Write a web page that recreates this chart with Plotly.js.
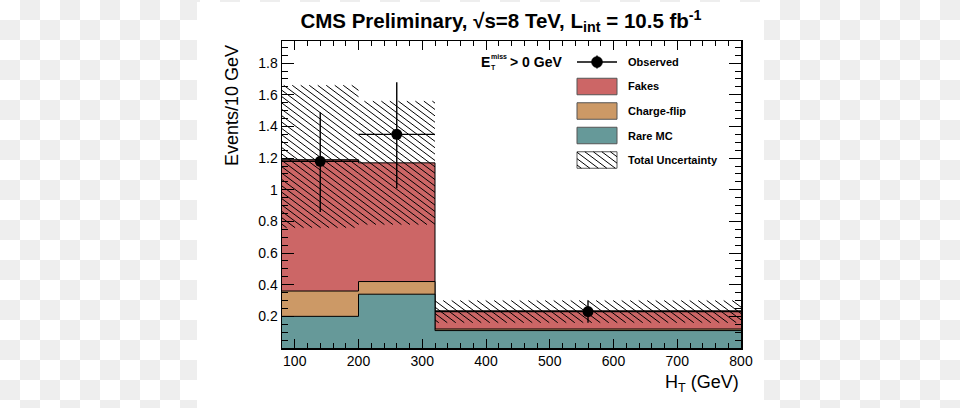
<!DOCTYPE html>
<html>
<head>
<meta charset="utf-8">
<script src="https://cdn.plot.ly/plotly-3.0.1.min.js"></script>
<style>
  html, body { margin: 0; padding: 0; }
  #bg { position: absolute; left: 0; top: 0; width: 960px; height: 408px;
        background: repeating-conic-gradient(#eeeeee 0% 25%, #ffffff 0% 50%) 0 0 / 40px 40px; }
  #sheet { position: absolute; left: 197px; top: 2px; width: 567px; height: 406px; background: #ffffff; }
  #chart { position: absolute; left: 0; top: 0; width: 960px; height: 408px; }
</style>
</head>
<body>
<div id="bg"></div>
<div id="sheet"></div>
<div id="chart"></div>
<script>
// ---- data ----
const binEdges   = [80, 200, 320, 800];
const rareMC     = [0.20, 0.34, 0.11];
const chargeFlip = [0.16, 0.08, 0.01];
const fakes      = [0.83, 0.75, 0.115];
const uncLow     = [0.76, 0.78, 0.16];
const uncHigh    = [1.66, 1.56, 0.30];
const obsX       = [140, 260, 560];
const obsY       = [1.18, 1.35, 0.23];
const obsHigh    = [1.49, 1.68, 0.30];
const obsLow     = [0.86, 1.01, 0.16];
const yTickVals  = [0.2, 0.4, 0.6, 0.8, 1, 1.2, 1.4, 1.6, 1.8];
const legendLabels = ['Observed', 'Fakes', 'Charge-flip', 'Rare MC', 'Total Uncertainty'];

// ---- geometry / styles ----
const FONT = 'Liberation Sans, Arial, Helvetica, sans-serif';
const cFakes = 'rgb(204,102,102)';
const cFlip  = 'rgb(204,153,102)';
const cRare  = 'rgb(102,153,153)';
const X_RANGE = [80, 800];
const Y_RANGE = [0, 1.94];
const PL = 282, PR = 741, PT = 41, PB = 348;   // plot area in page pixels

const px2x = px => X_RANGE[0] + (px - PL) * (X_RANGE[1] - X_RANGE[0]) / (PR - PL);
const py2y = py => Y_RANGE[0] + (PB - py) * (Y_RANGE[1] - Y_RANGE[0]) / (PB - PT);
const x2px = x => PL + (x - X_RANGE[0]) * (PR - PL) / (X_RANGE[1] - X_RANGE[0]);
const y2py = y => PB - (y - Y_RANGE[0]) * (PB - PT) / (Y_RANGE[1] - Y_RANGE[0]);
const pxPaper = px => (px - PL) / (PR - PL);
const pyPaper = py => (PB - py) / (PB - PT);

const cumulative = (...arrs) => arrs[0].map((_, i) => arrs.reduce((s, a) => s + a[i], 0));
const stepY = v => v.concat([v[v.length - 1]]);
const stackTrace = (vals, color) => ({
  type: 'scatter', mode: 'lines', x: binEdges, y: stepY(vals),
  line: {shape: 'hv', color: '#000000', width: 1}, fill: 'tozeroy', fillcolor: color, hoverinfo: 'skip'
});

// hatch lines ("\\") clipped to a pixel rectangle, aligned on a global grid
const HATCH_DX = 8.5, HATCH_SLOPE = 0.75;
function hatchSegments(X0, X1, Y0, Y1) {
  const segs = [];
  const step = HATCH_DX * HATCH_SLOPE;
  const cMin = Y0 - HATCH_SLOPE * X1, cMax = Y1 - HATCH_SLOPE * X0;
  for (let c = Math.ceil(cMin / step) * step; c <= cMax; c += step) {
    const a = Math.max(X0, (Y0 - c) / HATCH_SLOPE);
    const b = Math.min(X1, (Y1 - c) / HATCH_SLOPE);
    if (b - a > 0.3) segs.push([a, HATCH_SLOPE * a + c, b, HATCH_SLOPE * b + c]);
  }
  return segs;
}

const traces = [
  stackTrace(cumulative(rareMC, chargeFlip, fakes), cFakes),
  stackTrace(cumulative(rareMC, chargeFlip), cFlip),
  stackTrace(rareMC, cRare)
];
// uncertainty hatching: one small line trace per hatch stroke (no gaps in any trace)
for (let i = 0; i < uncLow.length; i++) {
  hatchSegments(x2px(binEdges[i]), x2px(binEdges[i + 1]), y2py(uncHigh[i]), y2py(uncLow[i])).forEach(s => {
    traces.push({type: 'scatter', mode: 'lines', x: [px2x(s[0]), px2x(s[2])], y: [py2y(s[1]), py2y(s[3])],
      line: {color: '#000000', width: 1}, hoverinfo: 'skip'});
  });
}
traces.push({type: 'scatter', mode: 'markers', x: obsX, y: obsY, marker: {color: '#000000', size: 11},
  error_y: {type: 'data', symmetric: false, array: obsHigh.map((h, i) => h - obsY[i]),
    arrayminus: obsY.map((v, i) => v - obsLow[i]), width: 0, thickness: 1.4, color: '#000000'},
  error_x: {type: 'data', array: obsX.map((x, i) => (binEdges[i + 1] - binEdges[i]) / 2),
    width: 0, thickness: 1.4, color: '#000000'}});

// ---- legend as layout shapes (page pixels -> paper) ----
const shapes = [];
const legX0 = 577, legX1 = 617, rowY = [62, 86.5, 111, 135.5, 160], boxH = 16.5;
const P = (x0, y0, x1, y1) => ({xref: 'paper', yref: 'paper', x0: pxPaper(x0), y0: pyPaper(y0), x1: pxPaper(x1), y1: pyPaper(y1), layer: 'above'});
shapes.push(Object.assign(P(legX0, rowY[0], legX1, rowY[0]), {type: 'line', line: {color: '#000000', width: 1.4}}));
shapes.push(Object.assign(P((legX0 + legX1) / 2, rowY[0] - 6.5, (legX0 + legX1) / 2, rowY[0] + 6.5), {type: 'line', line: {color: '#000000', width: 1.4}}));
shapes.push(Object.assign(P(591.5, rowY[0] - 5.5, 602.5, rowY[0] + 5.5), {type: 'circle', fillcolor: '#000000', line: {color: '#000000', width: 0.5}}));
[cFakes, cFlip, cRare, 'rgba(0,0,0,0)'].forEach((col, k) => {
  const r = k + 1;
  shapes.push(Object.assign(P(legX0, rowY[r] - boxH / 2, legX1, rowY[r] + boxH / 2),
    {type: 'rect', fillcolor: col, line: {color: '#555555', width: 1}}));
});
hatchSegments(legX0, legX1, rowY[4] - boxH / 2, rowY[4] + boxH / 2).forEach(s => {
  shapes.push(Object.assign(P(s[0], s[1], s[2], s[3]), {type: 'line', line: {color: '#000000', width: 1}}));
});

function ann(px, py, text, size, opts) {
  return Object.assign({
    xref: 'paper', yref: 'paper', x: pxPaper(px), y: pyPaper(py),
    xanchor: 'left', yanchor: 'middle', showarrow: false, text: text,
    font: {family: FONT, size: size, color: '#000000'}
  }, opts || {});
}
const annotations = legendLabels.map((lab, i) => ann(626, rowY[i], '<b>' + lab + '</b>', 11));
annotations.push(ann(479, 62, '<b>E</b>', 14));
annotations.push(ann(489, 56.5, '<b>miss</b>', 7));
annotations.push(ann(489, 67, '<b>T</b>', 7));
annotations.push(ann(508, 62, '<b>&gt; 0 GeV</b>', 14));
annotations.push(ann(232, 106, 'Events/10 GeV', 18, {xanchor: 'center', textangle: -90}));
annotations.push(ann(741, 383, 'H<sub>T</sub> (GeV)', 18, {xanchor: 'right'}));

const axisCommon = {
  showline: true, linecolor: '#000000', linewidth: 1.5, mirror: 'allticks',
  ticks: 'inside', tickcolor: '#000000', tickwidth: 1, showgrid: false, zeroline: false,
  tickfont: {family: FONT, size: 14, color: '#000000'}, fixedrange: true
};

const layout = {
  width: 960, height: 408, margin: {l: PL, r: 960 - PR, t: PT, b: 408 - PB, pad: 0},
  paper_bgcolor: 'rgba(0,0,0,0)', plot_bgcolor: 'rgba(0,0,0,0)', showlegend: false,
  title: {text: '<b>CMS Preliminary, √s=8 TeV, L<sub>int</sub> = 10.5 fb<sup>-1</sup></b>',
    x: 501 / 960, xanchor: 'center', xref: 'container', y: 1 - 21 / 408, yanchor: 'middle', yref: 'container',
    font: {family: FONT, size: 20.5, color: '#000000'}},
  xaxis: Object.assign({}, axisCommon, {range: X_RANGE.slice(), tickmode: 'linear', tick0: 100, dtick: 100, ticklen: 9,
    minor: {dtick: 20, tick0: 0, ticklen: 5, ticks: 'inside', tickcolor: '#000000', tickwidth: 1}}),
  yaxis: Object.assign({}, axisCommon, {range: Y_RANGE.slice(), tickmode: 'array', tickvals: yTickVals, ticklen: 12,
    minor: {dtick: 0.05, tick0: 0, ticklen: 6, ticks: 'inside', tickcolor: '#000000', tickwidth: 1}}),
  shapes: shapes,
  annotations: annotations
};

Plotly.newPlot('chart', traces, layout, {staticPlot: true, displayModeBar: false});
</script>
</body>
</html>
